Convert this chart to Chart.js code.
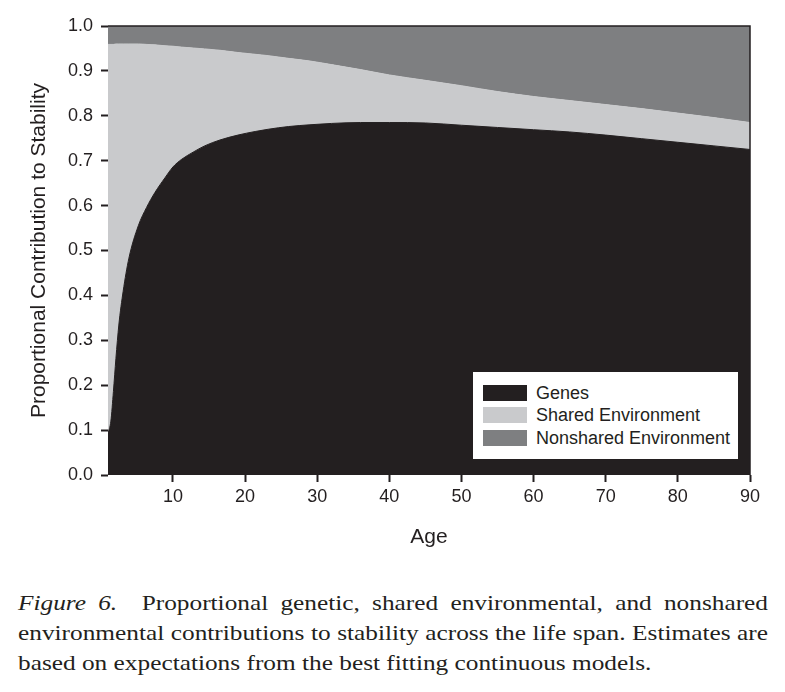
<!DOCTYPE html>
<html><head><meta charset="utf-8">
<script src="https://cdn.jsdelivr.net/npm/chart.js@4/dist/chart.umd.min.js"></script>
<style>
html,body{margin:0;padding:0;background:#fff;}
#wrap{position:relative;width:785px;height:692px;overflow:hidden;}
#cv{position:absolute;left:0;top:0;}
#legend{position:absolute;left:473px;top:372px;width:265px;height:87px;background:#fff;font-family:"Liberation Sans",Arial,sans-serif;font-size:18px;color:#231f20;}
.row{position:absolute;left:10px;height:16px;display:flex;align-items:center;white-space:nowrap;}
.sw{width:44px;height:16px;margin-right:9px;flex:none;}
#caption{position:absolute;left:18px;top:588px;width:648px;transform-origin:0 0;font-family:"Liberation Serif","Times New Roman",serif;font-size:22px;line-height:30px;color:#231f20;}
#caption div{white-space:nowrap;}
.j{text-align:justify;text-align-last:justify;}
</style>
</head><body>
<div id="wrap">
<canvas id="cv" width="785" height="560"></canvas>
<div id="legend"></div>
<div id="caption">
<div class="j"><span><i>Figure 6.</i>&nbsp; Proportional genetic, shared environmental, and nonshared</span></div>
<div class="j"><span>environmental contributions to stability across the life span. Estimates are</span></div>
<div><span>based on expectations from the best fitting continuous models.</span></div>
</div>
</div>
<script>
// ---- data ----
const ages      = [1, 1.4, 1.75, 2.1, 2.5, 3.1, 3.9, 5.2, 6.35, 7.5, 8.9, 10, 11.2, 12.8, 14.4, 16.5, 19, 21.4, 23.2, 26, 29, 32, 36, 40, 45, 50, 55, 60, 65, 70, 75, 80, 85, 90];
const genes     = [0.093, 0.12, 0.186, 0.26, 0.334, 0.409, 0.483, 0.555, 0.596, 0.629, 0.662, 0.686, 0.703, 0.719, 0.733, 0.746, 0.757, 0.765, 0.770, 0.776, 0.780, 0.783, 0.785, 0.785, 0.784, 0.779, 0.774, 0.769, 0.764, 0.757, 0.749, 0.741, 0.733, 0.725];
const shared    = [0.866, 0.839, 0.773, 0.70, 0.626, 0.551, 0.477, 0.405, 0.363, 0.329, 0.294, 0.269, 0.250, 0.232, 0.216, 0.20, 0.184, 0.172, 0.164, 0.152, 0.142, 0.131, 0.118, 0.106, 0.095, 0.088, 0.080, 0.074, 0.070, 0.068, 0.067, 0.065, 0.063, 0.060];
const nonshared = [0.041, 0.041, 0.041, 0.04, 0.04, 0.04, 0.04, 0.04, 0.041, 0.042, 0.044, 0.045, 0.047, 0.049, 0.051, 0.054, 0.059, 0.063, 0.066, 0.072, 0.078, 0.086, 0.097, 0.109, 0.121, 0.133, 0.146, 0.157, 0.166, 0.175, 0.184, 0.194, 0.204, 0.215];
const xTicks = [10, 20, 30, 40, 50, 60, 70, 80, 90];
const yTicks = [0, 0.1, 0.2, 0.3, 0.4, 0.5, 0.6, 0.7, 0.8, 0.9, 1.0];
const seriesLabels = ['Genes', 'Shared Environment', 'Nonshared Environment'];
const seriesColors = ['#231f20', '#c9cacc', '#7e7f81'];
const xTitle = 'Age';
const yTitle = 'Proportional Contribution to Stability';

const ink = '#231f20';
const sans = '"Liberation Sans", Arial, sans-serif';
const pts = arr => ages.map((a, i) => ({x: a, y: arr[i]}));
const seriesData = [genes, shared, nonshared];

const datasets = seriesData.map((arr, i) => ({
  label: seriesLabels[i],
  data: pts(arr),
  backgroundColor: seriesColors[i],
  borderColor: seriesColors[i],
  borderWidth: 1,
  pointRadius: 0,
  fill: i === 0 ? 'origin' : '-1',
  cubicInterpolationMode: 'monotone'
}));

const frame = {
  id: 'frame',
  afterDatasetsDraw(chart) {
    const {ctx, chartArea: a} = chart;
    ctx.save();
    ctx.strokeStyle = ink;
    ctx.lineWidth = 1.5;
    ctx.beginPath();
    ctx.moveTo(a.left, a.top);
    ctx.lineTo(a.right, a.top);
    ctx.lineTo(a.right, a.bottom);
    ctx.stroke();
    ctx.restore();
  }
};

new Chart(document.getElementById('cv'), {
  type: 'line',
  data: {datasets},
  plugins: [frame],
  options: {
    responsive: false,
    animation: false,
    devicePixelRatio: 1,
    layout: {padding: {left: 0, right: 35, top: 26, bottom: 0}},
    plugins: {legend: {display: false}, tooltip: {enabled: false}},
    scales: {
      x: {
        type: 'linear', min: 1, max: 90,
        afterBuildTicks: s => { s.ticks = xTicks.map(v => ({value: v})); },
        afterFit: s => { s.height = 85; },
        grid: {display: true, drawOnChartArea: false, drawTicks: true, tickLength: 7, tickWidth: 2, tickColor: ink},
        border: {display: false},
        ticks: {color: ink, font: {family: sans, size: 18}, padding: 4, maxRotation: 0},
        title: {display: true, text: xTitle, color: ink, font: {family: sans, size: 21}, padding: {top: 0, bottom: 10}}
      },
      y: {
        stacked: true, min: 0, max: 1,
        afterBuildTicks: s => { s.ticks = yTicks.map(v => ({value: v})); },
        afterFit: s => { s.width = 108; },
        grid: {display: true, drawOnChartArea: false, drawTicks: true, tickLength: 7, tickWidth: 2, tickColor: ink},
        border: {display: false},
        ticks: {color: ink, font: {family: sans, size: 18}, padding: 8, callback: v => Number(v).toFixed(1)},
        title: {display: true, text: yTitle, color: ink, font: {family: sans, size: 21}, padding: {top: 27, bottom: 0}}
      }
    }
  }
});

// legend built from the series arrays
const lg = document.getElementById('legend');
const rowTops = [13, 35, 58];
seriesLabels.forEach((lab, i) => {
  const r = document.createElement('div');
  r.className = 'row';
  r.style.top = rowTops[i] + 'px';
  const sw = document.createElement('div');
  sw.className = 'sw';
  sw.style.background = seriesColors[i];
  const t = document.createElement('span');
  t.textContent = lab;
  r.appendChild(sw); r.appendChild(t);
  lg.appendChild(r);
});

// fit caption: widen the serif text horizontally like the reference, without wrapping
const cap = document.getElementById('caption');
const spans = cap.querySelectorAll('span');
let maxW = 0;
spans.forEach((s, i) => { if (i < 2) maxW = Math.max(maxW, s.getBoundingClientRect().width); });
const sc = Math.min(1.158, 748 / maxW);
cap.style.width = (750 / sc) + 'px';
cap.style.transform = 'scaleX(' + sc + ')';
</script>
</body></html>
